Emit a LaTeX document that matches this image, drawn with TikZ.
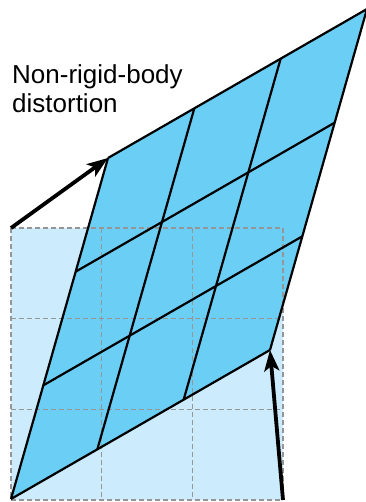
\documentclass[tikz,border=0pt]{standalone}
\usepackage{fontspec}
\setmainfont{Liberation Sans}
\usetikzlibrary{arrows.meta,calc}
\definecolor{skinlight}{RGB}{204,235,252}
\definecolor{skindark}{RGB}{107,207,245}
\definecolor{gridgray}{RGB}{150,150,150}
\begin{document}
\begin{tikzpicture}[
  x=1pt,
  y=-1pt,
  line cap=butt,
  line join=miter,
  ref grid/.style={draw=gridgray, line width=1.6pt, dash pattern=on 4.5pt off 3.5pt},
  warp grid/.style={draw=black, line width=2.2pt},
  warp arrow/.style={-{Stealth[length=21pt,width=15pt,inset=5pt]}, line width=3.8pt},
  label text/.style={font=\fontsize{26}{29.5}\selectfont, align=left, inner sep=0pt}
]
  \useasboundingbox (0,0) rectangle (365,502);
  \def\cell{90.67}

  % Undistorted reference square, split into 3 x 3 dashed cells.
  \coordinate (sqTL) at (11,228);
  \coordinate (sqBR) at (283,500);
  \fill[skinlight] (sqTL) rectangle (sqBR);

  % Distorted grid: a parallelogram spanned by two edge vectors.
  \coordinate (wO) at (11,499);
  \coordinate (wTL) at (108,158);
  \coordinate (wBR) at (270,350);
  \coordinate (wTR) at (367,9);
  \fill[skindark] (wO) -- (wBR) -- (wTR) -- (wTL) -- cycle;

  \foreach \i in {0,1,2,3} {
    \draw[ref grid] (11+\i*\cell,228) -- (11+\i*\cell,500);
    \draw[ref grid] (11,228+\i*\cell) -- (283,228+\i*\cell);
  }

  \foreach \t in {0,1,2,3} {
    \draw[warp grid] ($(wO)!\t/3!(wBR)$) -- ($(wTL)!\t/3!(wTR)$);
    \draw[warp grid] ($(wO)!\t/3!(wTL)$) -- ($(wBR)!\t/3!(wTR)$);
  }

  % Arrows from the square's corners to the distorted corners.
  \draw[warp arrow] (sqTL) -- (wTL);
  \draw[warp arrow] (sqBR) -- (wBR);

  \node[label text, anchor=north west] (title) at (12,64) {Non-rigid-body\\distortion};
\end{tikzpicture}
\end{document}
